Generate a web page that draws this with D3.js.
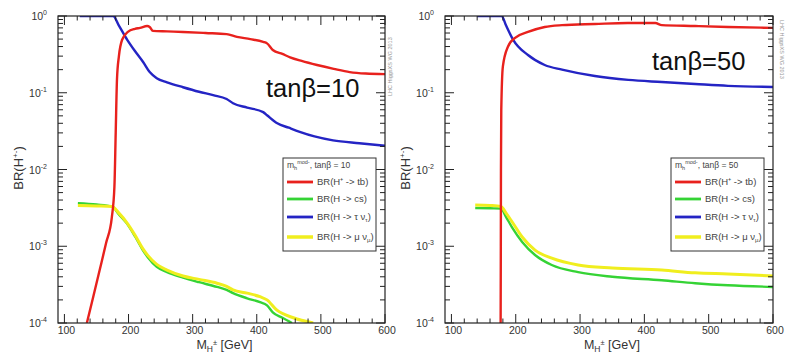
<!DOCTYPE html>
<html>
<head>
<meta charset="utf-8">
<script src="https://cdn.jsdelivr.net/npm/d3@7"></script>
<style>
  body { margin: 0; background: #fff; }
  text { font-family: "Liberation Sans", Arial, sans-serif; }
</style>
</head>
<body>
<div id="chart"></div>
<script>
const width = 791, height = 356;

// tick labels
const xTicks = [100, 200, 300, 400, 500, 600];
const yTicks = [1e-4, 1e-3, 1e-2, 1e-1, 1];
const yExp = ["-4", "-3", "-2", "-1", "0"];

const legendLabels = ["BR(H\u207A -> tb)", "BR(H -> cs)", "BR(H -> \u03C4 \u03BD", "BR(H -> \u03BC \u03BD"];
const legendSubs = ["", "", "\u03C4", "\u03BC"];

// tanβ = 10  -- [M_H (GeV), BR]
const tb10_tb = [[135,1e-4],[145,2.2e-4],[155,4.9e-4],[165,1.1e-3],[174,2.4e-3],[178,6e-3],[180,0.03],[182,0.15],[185,0.3],[190,0.49],[199,0.62],[210,0.68],[218,0.70],[229,0.74],[233,0.72],[238,0.64],[260,0.63],[285,0.62],[320,0.60],[353,0.58],[369,0.535],[390,0.50],[410,0.46],[416,0.44],[425,0.36],[440,0.32],[452,0.29],[470,0.26],[494,0.23],[520,0.205],[545,0.186],[570,0.178],[600,0.175]];
const tb10_cs = [[121,3.65e-3],[150,3.5e-3],[174,3.3e-3],[185,2.6e-3],[197,2.0e-3],[210,1.35e-3],[222,9.0e-4],[230,7.2e-4],[244,5.4e-4],[260,4.6e-4],[285,3.9e-4],[310,3.4e-4],[338,2.95e-4],[353,2.7e-4],[363,2.45e-4],[385,2.1e-4],[405,1.87e-4],[416,1.7e-4],[425,1.38e-4],[440,1.17e-4],[455,1e-4]];
const tb10_tau = [[124,1],[150,1],[176,1],[185,0.75],[198,0.49],[210,0.35],[223,0.25],[233,0.186],[244,0.155],[260,0.137],[285,0.118],[310,0.103],[332,0.093],[353,0.083],[363,0.073],[385,0.064],[410,0.056],[416,0.051],[432,0.040],[450,0.035],[467,0.031],[490,0.027],[519,0.024],[560,0.022],[600,0.0204]];
const tb10_mu = [[121,3.4e-3],[150,3.35e-3],[174,3.3e-3],[185,2.7e-3],[197,2.05e-3],[210,1.4e-3],[222,9.4e-4],[230,7.6e-4],[244,5.8e-4],[260,4.9e-4],[285,4.1e-4],[310,3.7e-4],[338,3.3e-4],[353,3.0e-4],[363,2.7e-4],[385,2.45e-4],[405,2.2e-4],[416,2.0e-4],[431,1.48e-4],[457,1.17e-4],[488,1e-4]];

// tanβ = 50
const tb50_tb = [[176.5,1e-4],[176.8,1e-3],[177,0.01],[177.5,0.06],[180,0.22],[188,0.40],[199,0.52],[219,0.62],[245,0.72],[272,0.76],[323,0.787],[374,0.81],[417,0.81],[427,0.76],[479,0.74],[530,0.72],[600,0.70]];
const tb50_cs = [[137,3.15e-3],[160,3.12e-3],[177,3.1e-3],[185,2.4e-3],[194,1.78e-3],[210,1.14e-3],[230,7.7e-4],[256,5.7e-4],[297,4.6e-4],[350,4.0e-4],[427,3.6e-4],[479,3.3e-4],[530,3.1e-4],[600,2.95e-4]];
const tb50_tau = [[140,1],[160,1],[178,1],[185,0.75],[196,0.49],[219,0.31],[245,0.23],[272,0.20],[323,0.165],[375,0.147],[427,0.138],[479,0.13],[530,0.123],[600,0.119]];
const tb50_mu = [[137,3.45e-3],[160,3.4e-3],[177,3.3e-3],[185,2.7e-3],[194,2.1e-3],[210,1.32e-3],[230,8.9e-4],[256,7.0e-4],[297,5.7e-4],[350,5.2e-4],[427,4.9e-4],[479,4.5e-4],[530,4.35e-4],[600,4.1e-4]];

const colors = { tb: "#e8211d", cs: "#35d335", tau: "#2424c4", mu: "#f0ee1e" };

const svg = d3.select("#chart").append("svg")
    .attr("width", width)
    .attr("height", height);

function drawPanel(left, right, tanb, series, label, labelPos, markRotate) {
    const top = 16, bottom = 323;
    const x = d3.scaleLinear().domain([90, 600]).range([left, right]);
    const y = d3.scaleLog().domain([1e-4, 1]).range([bottom, top]);
    const g = svg.append("g");

    // curves, clipped to the frame
    const clipId = "clip" + tanb;
    svg.append("clipPath").attr("id", clipId)
        .append("rect").attr("x", left).attr("y", top)
        .attr("width", right - left).attr("height", bottom - top);

    const line = d3.line()
        .x(d => x(d[0]))
        .y(d => y(d[1]))
        .curve(d3.curveMonotoneX);

    const order = ["cs", "mu", "tau", "tb"];
    order.forEach(k => {
        g.append("path")
            .attr("clip-path", `url(#${clipId})`)
            .attr("d", line(series[k]))
            .attr("fill", "none")
            .attr("stroke", colors[k])
            .attr("stroke-width", k === "mu" ? 3 : 2.4);
    });

    // frame
    g.append("rect")
        .attr("x", left).attr("y", top)
        .attr("width", right - left).attr("height", bottom - top)
        .attr("fill", "none").attr("stroke", "#222").attr("stroke-width", 1.2);

    // x ticks (bottom + top)
    const xMinor = d3.range(100, 601, 20);
    xMinor.forEach(v => {
        const major = v % 100 === 0;
        const len = major ? 9 : 4.5;
        g.append("line").attr("x1", x(v)).attr("x2", x(v))
            .attr("y1", bottom).attr("y2", bottom - len).attr("stroke", "#222");
        g.append("line").attr("x1", x(v)).attr("x2", x(v))
            .attr("y1", top).attr("y2", top + len).attr("stroke", "#222");
    });
    xTicks.forEach(v => {
        g.append("text").attr("x", x(v) + 2).attr("y", 334)
            .attr("text-anchor", "middle").attr("font-size", 10.5).attr("fill", "#333")
            .text(v);
    });

    // y ticks (left + right)
    yTicks.forEach((v, i) => {
        [left, right].forEach((ax, side) => {
            const dir = side === 0 ? 1 : -1;
            g.append("line").attr("x1", ax).attr("x2", ax + dir * 9)
                .attr("y1", y(v)).attr("y2", y(v)).attr("stroke", "#222");
            if (i < yTicks.length - 1) {
                for (let m = 2; m <= 9; m++) {
                    g.append("line").attr("x1", ax).attr("x2", ax + dir * 5)
                        .attr("y1", y(v * m)).attr("y2", y(v * m)).attr("stroke", "#222");
                }
            }
        });
        const t = g.append("text").attr("x", left - 11).attr("y", y(v) + 4)
            .attr("text-anchor", "end").attr("font-size", 10.5).attr("fill", "#333");
        t.append("tspan").text("10");
        t.append("tspan").attr("dy", -5).attr("font-size", 7).text(yExp[i]);
    });

    // axis titles
    const xt = g.append("text").attr("x", (left + right) / 2 + 3).attr("y", 349)
        .attr("text-anchor", "middle").attr("font-size", 12.5).attr("fill", "#333");
    xt.append("tspan").text("M");
    xt.append("tspan").attr("dy", 3).attr("font-size", 8.5).text("H");
    xt.append("tspan").attr("dy", -7).attr("font-size", 7.5).text("\u00B1");
    xt.append("tspan").attr("dy", 4).text(" [GeV]");

    const yt = g.append("text")
        .attr("transform", `translate(${left - 35},168) rotate(-90)`)
        .attr("text-anchor", "middle").attr("font-size", 13).attr("fill", "#333");
    yt.append("tspan").text("BR(H");
    yt.append("tspan").attr("dy", -5).attr("font-size", 8).text("+-");
    yt.append("tspan").attr("dy", 5).text(")");

    // watermark
    g.append("text")
        .attr("transform", `translate(${right + 7},${markRotate > 0 ? 20 : 96}) rotate(${markRotate})`)
        .attr("font-size", 5.5).attr("fill", "#999")
        .text("LHC HiggsXS WG 2013");

    // tanβ label
    g.append("text").attr("x", labelPos[0]).attr("y", labelPos[1])
        .attr("font-family", "'Open Sans', 'Noto Sans', sans-serif")
        .attr("font-size", 25.5).attr("fill", "#111")
        .text(label);

    // legend
    const lx = right - 102, ly = 158, lw = 93, lh = 93;
    const lg = g.append("g");
    lg.append("rect").attr("x", lx).attr("y", ly).attr("width", lw).attr("height", lh)
        .attr("fill", "#fff").attr("stroke", "#333").attr("stroke-width", 1);
    const hd = lg.append("text").attr("x", lx + 4).attr("y", ly + 10)
        .attr("font-size", 8.5).attr("fill", "#444");
    hd.append("tspan").text("m");
    hd.append("tspan").attr("dy", 2).attr("font-size", 5.5).text("h");
    hd.append("tspan").attr("dy", -6).attr("font-size", 5.5).text("mod-");
    hd.append("tspan").attr("dy", 4).text(", tan\u03B2 = " + tanb);

    const keys = ["tb", "cs", "tau", "mu"];
    const rowY = [24, 41, 59, 79];
    keys.forEach((k, i) => {
        lg.append("line")
            .attr("x1", lx + 4).attr("x2", lx + 30)
            .attr("y1", ly + rowY[i]).attr("y2", ly + rowY[i])
            .attr("stroke", colors[k]).attr("stroke-width", k === "mu" ? 3.5 : 2.8);
        const t = lg.append("text").attr("x", lx + 34).attr("y", ly + rowY[i] + 3)
            .attr("font-size", 9.5).attr("fill", "#444");
        t.append("tspan").text(legendLabels[i]);
        if (legendSubs[i]) {
            t.append("tspan").attr("dy", 2).attr("font-size", 6).text(legendSubs[i]);
            t.append("tspan").attr("dy", -2).text(")");
        }
    });
}

drawPanel(58, 385, 10,
    { tb: tb10_tb, cs: tb10_cs, tau: tb10_tau, mu: tb10_mu },
    "tan\u03B2=10", [266, 97], -90);
drawPanel(445, 773, 50,
    { tb: tb50_tb, cs: tb50_cs, tau: tb50_tau, mu: tb50_mu },
    "tan\u03B2=50", [652, 70], 90);
</script>
</body>
</html>
